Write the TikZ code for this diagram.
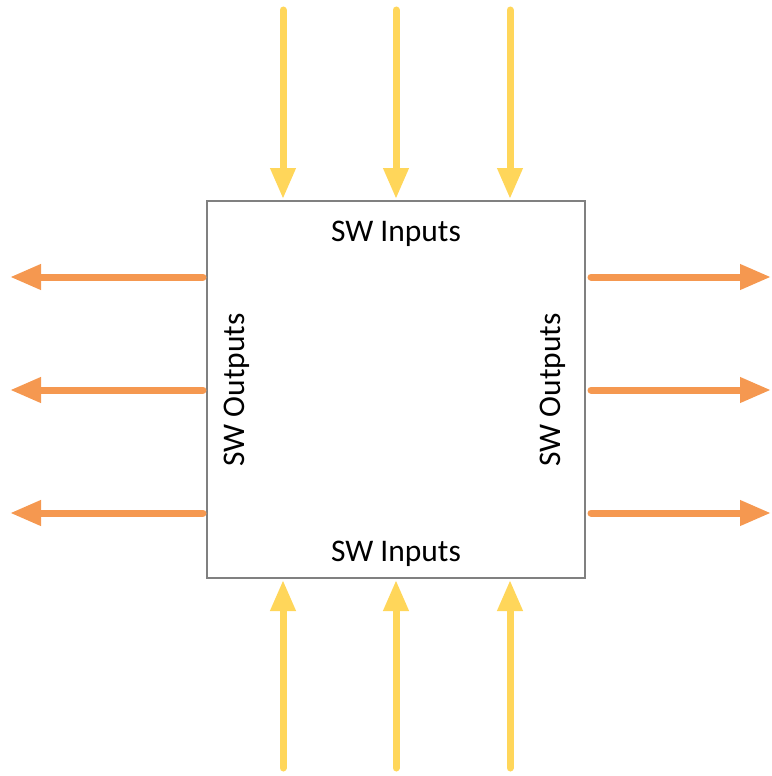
\documentclass[tikz,border=0pt]{standalone}
\usepackage{fontspec}
\setmainfont{Carlito}
\usetikzlibrary{arrows.meta}
\definecolor{frame}{RGB}{128,128,128}
\definecolor{inyellow}{RGB}{255,214,90}
\definecolor{outorange}{RGB}{245,152,80}
\tikzset{
  block/.style={draw=frame, line width=2.5pt, minimum width=378pt, minimum height=377pt, inner sep=0pt},
  label/.style={font=\fontsize{31.5}{36}\selectfont, inner sep=0pt},
  inarrow/.style={draw=inyellow, line width=7pt, line cap=round, -{Triangle[width=24pt,length=31pt]}},
  outarrow/.style={draw=outorange, line width=7pt, line cap=round, -{Triangle[width=24pt,length=31pt]}}
}
\begin{document}
\begin{tikzpicture}[x=1pt, y=-1pt]
  \useasboundingbox (0,0) rectangle (771,776);
  % central block
  \node[block] (box) at (396,389.5) {};
  % labels inside the block
  \node[label] (intop) at (396,234) {SW Inputs};
  \node[label] (inbot) at (396,554) {SW Inputs};
  \node[label, rotate=90] (outleft) at (237,390) {SW Outputs};
  \node[label, rotate=90] (outright) at (553,390) {SW Outputs};
  % free ends of the connectors
  \foreach \x [count=\i] in {283,396,510} {
    \coordinate (ts\i) at (\x,10);
    \coordinate (te\i) at (\x,199);
    \coordinate (bs\i) at (\x,768);
    \coordinate (be\i) at (\x,580);
  }
  \foreach \y [count=\i] in {277,390,513} {
    \coordinate (ls\i) at (203,\y);
    \coordinate (le\i) at (10,\y);
    \coordinate (rs\i) at (591,\y);
    \coordinate (re\i) at (771,\y);
  }
  % inputs enter from top and bottom
  \foreach \i in {1,2,3} {
    \draw[inarrow] (ts\i) -- (te\i);
    \draw[inarrow] (bs\i) -- (be\i);
  }
  % outputs leave to left and right
  \foreach \i in {1,2,3} {
    \draw[outarrow] (ls\i) -- (le\i);
    \draw[outarrow] (rs\i) -- (re\i);
  }
\end{tikzpicture}
\end{document}
